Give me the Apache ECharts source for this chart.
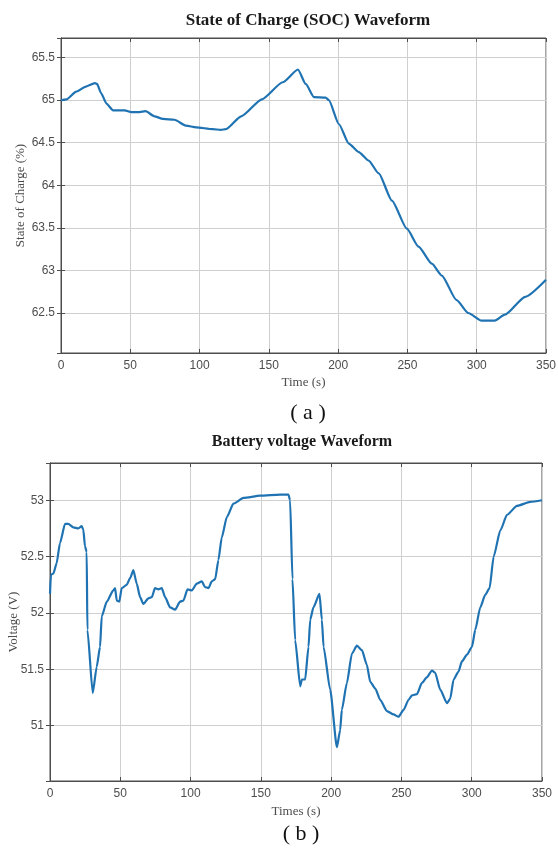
<!DOCTYPE html>
<html>
<head>
<meta charset="utf-8">
<script src="https://cdn.jsdelivr.net/npm/echarts@6/dist/echarts.min.js"></script>
<style>
    html, body { margin: 0; padding: 0; background: #fff; }
    .char { width: 558px; height: 852px; }
</style>
</head>
<body>
<div class="char"></div>
<script>
// SOC waveform (a)
var socTime = [0, 4, 11, 18, 24.4, 26, 29, 32.8, 37.6, 46, 50.7, 56.7, 61, 67.5, 73.5, 81.9, 90.3, 97.5, 109.4, 115.4, 119,
    130, 145, 160, 171, 176.6, 182.5, 191, 193.3, 200.5, 207.7, 214.9, 222, 229.3, 238.8, 249.6, 258, 267.6, 274.8, 285.5,
    293.9, 303.5, 313, 320.3, 335, 350];
var socValue = [65.0, 65.01, 65.1, 65.16, 65.2, 65.19, 65.08, 64.96, 64.88, 64.88, 64.86, 64.86, 64.87, 64.81, 64.78, 64.77,
    64.7, 64.68, 64.66, 64.65, 64.66, 64.81, 65.01, 65.21, 65.36, 65.19, 65.035, 65.03, 65.0, 64.72, 64.49, 64.39, 64.29,
    64.14, 63.82, 63.49, 63.28, 63.08, 62.94, 62.65, 62.5, 62.41, 62.41, 62.48, 62.69, 62.89];

// battery voltage waveform (b)
var voltTime = [0, 0.7, 2.4, 4.7, 7.1, 10.7, 13, 16.6, 20.2, 22.5, 23.7, 24.9, 26.1, 26.6, 30.4, 33.2, 35.6, 36.8, 40.4, 45,
    46.3, 47.5, 49.3, 51, 54.6, 57, 59.3, 61.7, 64.1, 66.4, 70, 72.4, 74.7, 77.1, 79.5, 81.9, 85.4, 89, 92.5, 94.9, 97.8,
    100.9, 104.4, 108, 110.3, 112.7, 115.1, 117.5, 119.8, 122.2, 125.8, 130.5, 137.6, 149.5, 163.7, 169.6, 170.8, 172.5,
    174.4, 178, 179.2, 181.5, 183.9, 185.1, 187.4, 191.7, 193.4, 194.6, 199.3, 204.1, 206.4, 207.6, 211.2, 214.8, 218.3,
    221.9, 225.4, 227.8, 231.4, 234.9, 239.7, 244.4, 247.9, 251.5, 255.1, 257.5, 261, 264.6, 268.1, 271.7, 274, 277.6,
    282.4, 284.7, 287.1, 290.6, 293, 296.6, 300.2, 302.5, 306.1, 309.6, 312.7, 315.6, 320.3, 325.1, 332.2, 341.7, 350];
var voltValue = [52.17, 52.34, 52.35, 52.44, 52.62, 52.79, 52.79, 52.76, 52.75, 52.77, 52.74, 52.59, 52.54, 51.85, 51.29,
    51.52, 51.7, 51.97, 52.1, 52.2, 52.22, 52.11, 52.1, 52.22, 52.25, 52.31, 52.38, 52.26, 52.14, 52.08, 52.13, 52.14,
    52.22, 52.21, 52.22, 52.14, 52.05, 52.03, 52.1, 52.11, 52.21, 52.2, 52.26, 52.28, 52.23, 52.22, 52.28, 52.3, 52.47,
    52.67, 52.85, 52.97, 53.02, 53.04, 53.05, 53.05, 53.0, 52.3, 51.76, 51.35, 51.41, 51.41, 51.7, 51.94, 52.05, 52.17,
    51.94, 51.7, 51.32, 50.81, 50.96, 51.14, 51.38, 51.64, 51.71, 51.67, 51.54, 51.39, 51.33, 51.23, 51.13, 51.1, 51.08,
    51.14, 51.23, 51.27, 51.28, 51.38, 51.43, 51.49, 51.47, 51.32, 51.2, 51.24, 51.41, 51.48, 51.57, 51.63, 51.7, 51.85,
    52.05, 52.16, 52.22, 52.5, 52.73, 52.87, 52.95, 52.985, 53.0];

var titleTexts = ['State of Charge (SOC) Waveform', 'Battery voltage Waveform'];
var captionTexts = ['( a )', '( b )'];

(function () {
    var myChart = echarts.init(document.querySelector(".char"));

    function pairs(xs, ys) {
        return xs.map(function (x, i) { return [x, ys[i]]; });
    }

    // only label the half steps, hide the odd min/max of the axis
    function halfLabel(v) {
        var r = Math.round(v * 2) / 2;
        return Math.abs(r - v) < 1e-6 ? String(r) : '';
    }

    var gray = '#4d4d4d';
    var serif = '"Liberation Serif", "Times New Roman", serif';
    var sans = '"Liberation Sans", Arial, sans-serif';

    function xAx(gridIndex, name, gap) {
        return {
            type: 'value',
            gridIndex: gridIndex,
            min: 0,
            max: 350,
            interval: 50,
            name: name,
            nameLocation: 'middle',
            nameGap: gap,
            nameTextStyle: { color: gray, fontFamily: serif, fontSize: 13 },
            axisLine: { show: true, lineStyle: { color: gray } },
            axisTick: { show: true, inside: true, length: 4, lineStyle: { color: gray } },
            axisLabel: { color: gray, fontFamily: sans, fontSize: 12, margin: 7 },
            splitLine: { show: true, lineStyle: { color: '#cfcfcf', width: 1 } }
        };
    }

    // no interval here: the min is not on a half step, splitNumber lets the ticks land on 0.5 multiples
    function yAx(gridIndex, name, gap, min, max, split) {
        return {
            type: 'value',
            gridIndex: gridIndex,
            min: min,
            max: max,
            splitNumber: split,
            name: name,
            nameLocation: 'middle',
            nameGap: gap,
            nameMoveOverlap: false,
            nameTextStyle: { color: gray, fontFamily: serif, fontSize: 13 },
            axisLine: { show: true, lineStyle: { color: gray } },
            axisTick: { show: true, inside: true, length: 4, lineStyle: { color: gray } },
            axisLabel: { color: gray, fontFamily: sans, fontSize: 12, margin: 6, formatter: halfLabel },
            splitLine: { show: true, lineStyle: { color: '#cfcfcf', width: 1 } }
        };
    }

    // top / right edges of the box only carry small inward ticks
    function boxAx(base, pos) {
        var a = echarts.util.clone(base);
        a.position = pos;
        a.name = '';
        a.axisLabel = { show: false, formatter: base.axisLabel.formatter };
        a.splitLine = { show: false };
        return a;
    }

    var xs = [xAx(0, 'Time (s)', 23), xAx(1, 'Times (s)', 24)];
    var ys = [yAx(0, 'State of Charge (%)', 34, 62.03, 65.73, 7), yAx(1, 'Voltage (V)', 30, 50.51, 53.33, 6)];

    var option = {
        backgroundColor: '#ffffff',
        animation: false,
        title: [
            { text: titleTexts[0], left: 303, top: 7, textAlign: 'center',
              textStyle: { fontFamily: serif, fontWeight: 'bold', fontSize: 17, color: '#1a1a1a' } },
            { text: captionTexts[0], left: 303, top: 397, textAlign: 'center',
              textStyle: { fontFamily: serif, fontWeight: 'normal', fontSize: 22, color: '#111' } },
            { text: titleTexts[1], left: 297, top: 429, textAlign: 'center',
              textStyle: { fontFamily: serif, fontWeight: 'bold', fontSize: 16, color: '#1a1a1a' } },
            { text: captionTexts[1], left: 296, top: 818, textAlign: 'center',
              textStyle: { fontFamily: serif, fontWeight: 'normal', fontSize: 22, color: '#111' } }
        ],
        grid: [
            { left: 61, top: 38, width: 485, height: 315, outerBoundsMode: 'none', containLabel: false,
              show: true, borderColor: gray, borderWidth: 1, backgroundColor: '#fff' },
            { left: 50, top: 463, width: 492, height: 318, outerBoundsMode: 'none', containLabel: false,
              show: true, borderColor: gray, borderWidth: 1, backgroundColor: '#fff' }
        ],
        xAxis: [xs[0], xs[1], boxAx(xs[0], 'top'), boxAx(xs[1], 'top')],
        yAxis: [ys[0], ys[1], boxAx(ys[0], 'right'), boxAx(ys[1], 'right')],
        series: [
            {
                type: 'line',
                xAxisIndex: 0,
                yAxisIndex: 0,
                data: pairs(socTime, socValue),
                showSymbol: false,
                smooth: 0.2,
                smoothMonotone: 'x',
                lineStyle: { color: '#1f73b2', width: 2.2 }
            },
            {
                type: 'line',
                xAxisIndex: 1,
                yAxisIndex: 1,
                data: pairs(voltTime, voltValue),
                showSymbol: false,
                smooth: 0.2,
                smoothMonotone: 'x',
                lineStyle: { color: '#1f73b2', width: 2.2 }
            }
        ]
    };

    myChart.setOption(option);

    window.addEventListener("resize", function () {
        myChart.resize();
    });
})();
</script>
</body>
</html>
